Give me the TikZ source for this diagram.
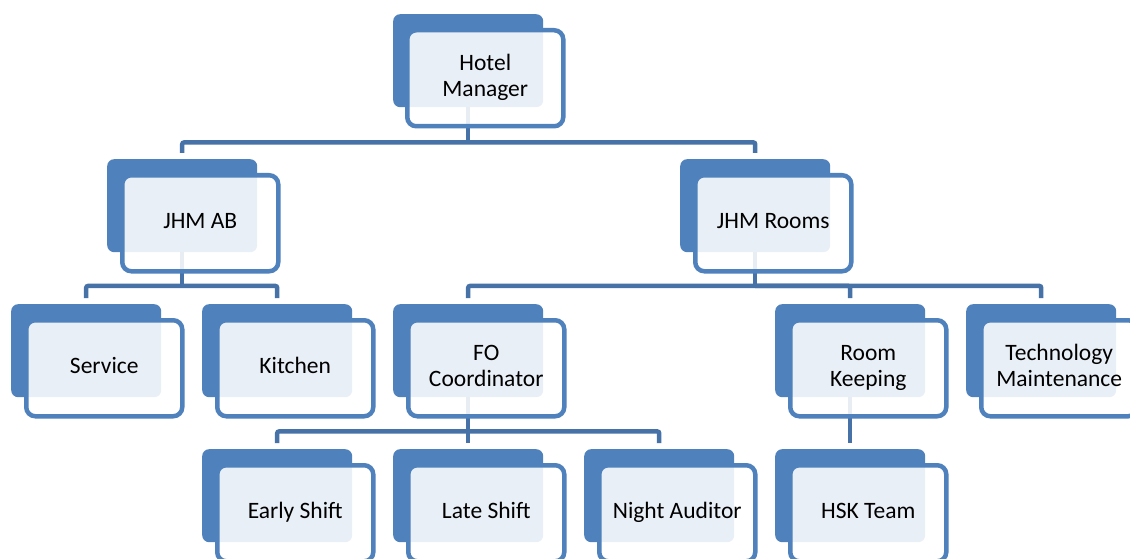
\documentclass[tikz,border=0pt]{standalone}
\usepackage{fontspec}
\setmainfont{Carlito}
\definecolor{accent}{RGB}{79,129,189}
\definecolor{connc}{RGB}{70,114,168}
\newcommand{\mystrut}{\rule[-5.5pt]{0pt}{20.5pt}}
\begin{document}
\begin{tikzpicture}[x=1pt,y=-1pt,
  backbox/.style={rectangle, rounded corners=7pt, fill=accent, draw=none,
    minimum width=150pt, minimum height=93pt, inner sep=0pt, anchor=north west},
  frontbox/.style={rectangle, rounded corners=9pt, draw=accent, line width=4.5pt,
    fill=white, fill opacity=0.88, text opacity=1, draw opacity=1,
    minimum width=156pt, minimum height=96pt, inner sep=0pt, anchor=north west,
    align=center, text=black, font=\fontsize{23.5}{26}\selectfont},
  conn/.style={draw=connc, line width=4.5pt, rounded corners=2pt}]
\clip (0,0) rectangle (1130,559);
\fill[white] (0,0) rectangle (1130,559);

% back boxes
\node[backbox] (hmB)  at (393,14) {};
\node[backbox] (jabB) at (107,159) {};
\node[backbox] (jrB)  at (680,159) {};
\node[backbox] (svB)  at (11,304) {};
\node[backbox] (kiB)  at (202,304) {};
\node[backbox] (foB)  at (393,304) {};
\node[backbox] (rkB)  at (775,304) {};
\node[backbox] (tmB)  at (966,304) {};
\node[backbox] (esB)  at (202,449) {};
\node[backbox] (lsB)  at (393,449) {};
\node[backbox] (naB)  at (584,449) {};
\node[backbox] (hskB) at (775,449) {};

% connectors
\draw[conn] (hmB.south) -- ++(0,35) coordinate (hmF);
\draw[conn] ([yshift=6pt]jabB.north) |- (hmF) -| ([yshift=6pt]jrB.north);
\draw[conn] (jabB.south) -- ++(0,33.5) coordinate (jabF);
\draw[conn] ([yshift=6pt]svB.north) |- (jabF) -| ([yshift=6pt]kiB.north);
\draw[conn] (jrB.south) -- ++(0,33.5) coordinate (jrF);
\draw[conn] ([yshift=6pt]foB.north) |- (jrF) -| ([yshift=6pt]tmB.north);
\draw[conn] (jrF) -| ([yshift=6pt]rkB.north);
\draw[conn] (foB.south) -- ++(0,34) coordinate (foF);
\draw[conn] ([yshift=6pt]esB.north) |- (foF) -| ([yshift=6pt]naB.north);
\draw[conn] (foF) -- ([yshift=6pt]lsB.north);
\draw[conn] (rkB.south) -- ([yshift=6pt]hskB.north);

% front boxes
\node[frontbox] (hm)  at ([shift={(12,14)}]hmB.north west) {\mystrut Hotel\\\mystrut Manager};
\node[frontbox] (jab) at ([shift={(13,14)}]jabB.north west) {\mystrut JHM AB};
\node[frontbox] (jr)  at ([shift={(13,14)}]jrB.north west) {\mystrut JHM Rooms};
\node[frontbox] (sv)  at ([shift={(13,14)}]svB.north west) {\mystrut Service};
\node[frontbox] (ki)  at ([shift={(13,14)}]kiB.north west) {\mystrut Kitchen};
\node[frontbox] (fo)  at ([shift={(13,14)}]foB.north west) {\mystrut FO\\\mystrut Coordinator};
\node[frontbox] (rk)  at ([shift={(13,14)}]rkB.north west) {\mystrut Room\\\mystrut Keeping};
\node[frontbox] (tm)  at ([shift={(13,14)}]tmB.north west) {\mystrut Technology\\\mystrut Maintenance};
\node[frontbox] (es)  at ([shift={(13,14)}]esB.north west) {\mystrut Early Shift};
\node[frontbox] (ls)  at ([shift={(13,14)}]lsB.north west) {\mystrut Late Shift};
\node[frontbox] (na)  at ([shift={(13,14)}]naB.north west) {\mystrut Night Auditor};
\node[frontbox] (hsk) at ([shift={(13,14)}]hskB.north west) {\mystrut HSK Team};
\end{tikzpicture}
\end{document}
